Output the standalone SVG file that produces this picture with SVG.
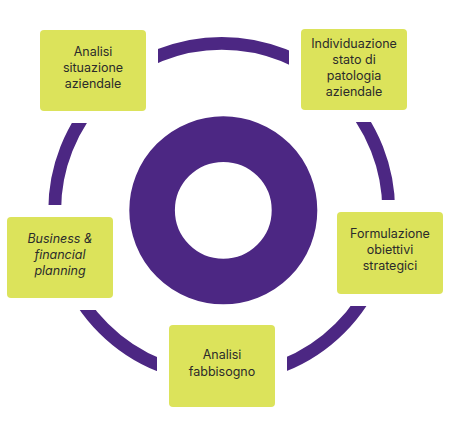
<svg xmlns="http://www.w3.org/2000/svg" width="450" height="433" viewBox="0 0 450 433">
  <style>
    .box { fill: #dce35b; }
    .lbl { font-family: Inter, "Noto Sans", "Liberation Sans", sans-serif; font-size: 12.5px; fill: #2b2b2b; text-anchor: middle; }
    .it { font-style: italic; }
    .ring { fill: none; stroke: #4c2783; }
  </style>
  <defs>
    <mask id="gaps" maskUnits="userSpaceOnUse" x="0" y="0" width="450" height="433">
      <rect x="0" y="0" width="450" height="433" fill="#fff"/>
      <rect x="28" y="18" width="130" height="105" fill="#000"/>
      <rect x="289" y="17" width="130" height="105" fill="#000"/>
      <rect x="325" y="200" width="130" height="106" fill="#000"/>
      <rect x="-5" y="205" width="130" height="105" fill="#000"/>
      <rect x="157" y="313" width="130" height="106" fill="#000"/>
    </mask>
  </defs>
  <rect width="450" height="433" fill="#fff"/>
  <g id="connectors">
    <circle class="ring" cx="221.7" cy="210.3" r="167" stroke-width="12.8" mask="url(#gaps)"/>
  </g>
  <g id="hub">
    <circle class="ring" cx="223.3" cy="210.3" r="71.2" stroke-width="45.6"/>
  </g>
  <g id="node-analisi-situazione">
    <rect class="box" x="40" y="30" width="106" height="81" rx="4"/>
    <text class="lbl" x="93" y="56">Analisi</text>
    <text class="lbl" x="93" y="72">situazione</text>
    <text class="lbl" x="93" y="88">aziendale</text>
  </g>
  <g id="node-individuazione">
    <rect class="box" x="301" y="29" width="106" height="81" rx="4"/>
    <text class="lbl" x="354" y="48">Individuazione</text>
    <text class="lbl" x="354" y="64">stato di</text>
    <text class="lbl" x="354" y="80">patologia</text>
    <text class="lbl" x="354" y="96">aziendale</text>
  </g>
  <g id="node-formulazione">
    <rect class="box" x="337" y="212" width="106" height="82" rx="4"/>
    <text class="lbl" x="390" y="238">Formulazione</text>
    <text class="lbl" x="390" y="254">obiettivi</text>
    <text class="lbl" x="390" y="270">strategici</text>
  </g>
  <g id="node-business">
    <rect class="box" x="7" y="217" width="106" height="81" rx="4"/>
    <text class="lbl it" x="60" y="243">Business &amp;</text>
    <text class="lbl it" x="60" y="259">financial</text>
    <text class="lbl it" x="60" y="275">planning</text>
  </g>
  <g id="node-fabbisogno">
    <rect class="box" x="169" y="325" width="106" height="82" rx="4"/>
    <text class="lbl" x="222" y="359">Analisi</text>
    <text class="lbl" x="222" y="376">fabbisogno</text>
  </g>
</svg>
